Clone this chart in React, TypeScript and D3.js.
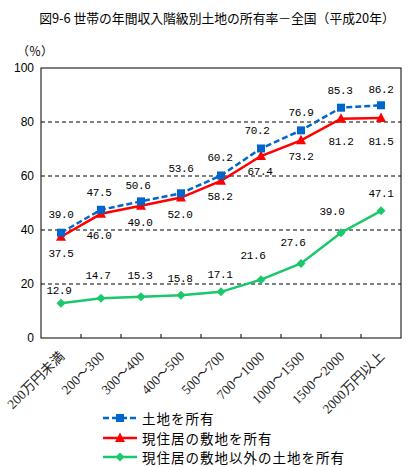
import React from "react";
import * as d3 from "d3";

const categories = ["200万円未満", "200～300", "300～400", "400～500", "500～700", "700～1000", "1000～1500", "1500～2000", "2000万円以上"];
const landOwned = [39.0, 47.5, 50.6, 53.6, 60.2, 70.2, 76.9, 85.3, 86.2];
const residenceLand = [37.5, 46.0, 49.0, 52.0, 58.2, 67.4, 73.2, 81.2, 81.5];
const otherLand = [12.9, 14.7, 15.3, 15.8, 17.1, 21.6, 27.6, 39.0, 47.1];
const yTicks = [0, 20, 40, 60, 80, 100];
const seriesNames = ["土地を所有", "現住居の敷地を所有", "現住居の敷地以外の土地を所有"];

// label offsets (layout only)
const landLabelOff = [[0, -18], [-2, -17], [-3, -15], [0, -24], [-1, -17], [-4, -17], [0, -17], [-1, -17], [0, -15]];
const resLabelOff = [[0, 17], [-2, 22], [-1, 17], [-1, 17], [-1, 16], [-1, 16], [0, 17], [0, 23], [0, 24]];
const otherLabelOff = [[-2, -12], [-3, -22], [-1, -21], [-1, -16], [-1, -17], [-8, -24], [-8, -20], [-9, -21], [0, -17]];

const W = 420, H = 467;
const L = 41, R = 401, T = 68, B = 338;

const BLUE = "#0066CC";
const RED = "#FF0000";
const GREEN = "#19C86A";

export default function App() {
  const x = d3.scaleBand<string>().domain(categories).range([L, R]);
  const cx = (i: number) => (x(categories[i]) as number) + x.bandwidth() / 2;
  const y = d3.scaleLinear().domain([0, 100]).range([B, T]);
  const line = d3.line<number>().x((_, i) => cx(i)).y((d) => y(d));

  const numFont = { fontFamily: "'Liberation Mono', monospace", fontSize: 11, letterSpacing: -0.4 };

  const square = (px: number, py: number, key: any, s = 8) => (
    <rect key={key} x={px - s / 2} y={py - s / 2} width={s} height={s} fill={BLUE} />
  );
  const tri = (px: number, py: number, key: any, s = 10) => (
    <path key={key} d={`M${px},${py - s * 0.55}L${px + s / 2},${py + s * 0.4}L${px - s / 2},${py + s * 0.4}Z`} fill={RED} />
  );
  const diamond = (px: number, py: number, key: any, s = 4.5) => (
    <path key={key} d={`M${px},${py - s}L${px + s},${py}L${px},${py + s}L${px - s},${py}Z`} fill={GREEN} />
  );

  const labels = (vals: number[], off: number[][], k: string) =>
    vals.map((v, i) => (
      <text key={k + i} x={cx(i) + off[i][0]} y={y(v) + off[i][1]} textAnchor="middle" dominantBaseline="central" style={numFont}>
        {v.toFixed(1)}
      </text>
    ));

  const legendY = [418, 438, 457];

  return (
    <svg width={W} height={H} style={{ position: "absolute", left: 0, top: 0, background: "#fff" }}>
      <text x={217} y={17} textAnchor="middle" dominantBaseline="central" fontFamily="'Noto Sans CJK JP'" fontSize={12.8}>
        図9-6 世帯の年間収入階級別土地の所有率－全国（平成20年）
      </text>
      <text x={35} y={50} textAnchor="middle" dominantBaseline="central" fontFamily="'Noto Sans CJK JP'" fontSize={12}>
        （％）
      </text>
      {/* gridlines */}
      {yTicks.filter((t) => t > 0 && t < 100).map((t) => (
        <line key={t} x1={L} x2={R} y1={y(t)} y2={y(t)} stroke="#000" strokeWidth={1} strokeDasharray="4,3" />
      ))}
      {/* frame */}
      <rect x={L} y={T} width={R - L} height={B - T} fill="none" stroke="#000" strokeWidth={1} />
      {/* x ticks */}
      {categories.slice(1).map((c) => (
        <line key={c} x1={x(c) as number} x2={x(c) as number} y1={B} y2={B - 4} stroke="#000" />
      ))}
      {/* y tick labels */}
      {yTicks.map((t) => (
        <text key={t} x={34} y={y(t)} textAnchor="end" dominantBaseline="central" fontFamily="'Liberation Sans'" fontSize={12}>
          {t}
        </text>
      ))}
      {/* category labels */}
      {categories.map((c, i) => (
        <text
          key={c}
          transform={`translate(${cx(i) + 1},${B + 16}) rotate(-45)`}
          textAnchor="end"
          dominantBaseline="central"
          fontFamily="'Liberation Serif', 'Noto Sans CJK JP'"
          fontSize={13.5}
          fill="#222"
        >
          {c}
        </text>
      ))}
      {/* series */}
      <path d={line(otherLand) || ""} fill="none" stroke={GREEN} strokeWidth={2.5} />
      {otherLand.map((v, i) => diamond(cx(i), y(v), "g" + i))}
      <path d={line(residenceLand) || ""} fill="none" stroke={RED} strokeWidth={2.5} />
      {residenceLand.map((v, i) => tri(cx(i), y(v), "r" + i))}
      <path d={line(landOwned) || ""} fill="none" stroke={BLUE} strokeWidth={2.5} strokeDasharray="6,3" />
      {landOwned.map((v, i) => square(cx(i), y(v), "b" + i))}
      {/* labels */}
      {labels(landOwned, landLabelOff, "bl")}
      {labels(residenceLand, resLabelOff, "rl")}
      {labels(otherLand, otherLabelOff, "gl")}
      {/* legend */}
      <line x1={103} x2={137} y1={legendY[0]} y2={legendY[0]} stroke={BLUE} strokeWidth={2.5} strokeDasharray="6,3" />
      {square(120, legendY[0], "lb")}
      <line x1={103} x2={137} y1={legendY[1]} y2={legendY[1]} stroke={RED} strokeWidth={2.5} />
      {tri(120, legendY[1], "lr")}
      <line x1={103} x2={137} y1={legendY[2]} y2={legendY[2]} stroke={GREEN} strokeWidth={2.5} />
      {diamond(120, legendY[2], "lg")}
      {seriesNames.map((n, i) => (
        <text key={n} x={142} y={legendY[i]} dominantBaseline="central" fontFamily="'Noto Sans CJK JP'" fontSize={13.5} letterSpacing={1}>
          {n}
        </text>
      ))}
    </svg>
  );
}
